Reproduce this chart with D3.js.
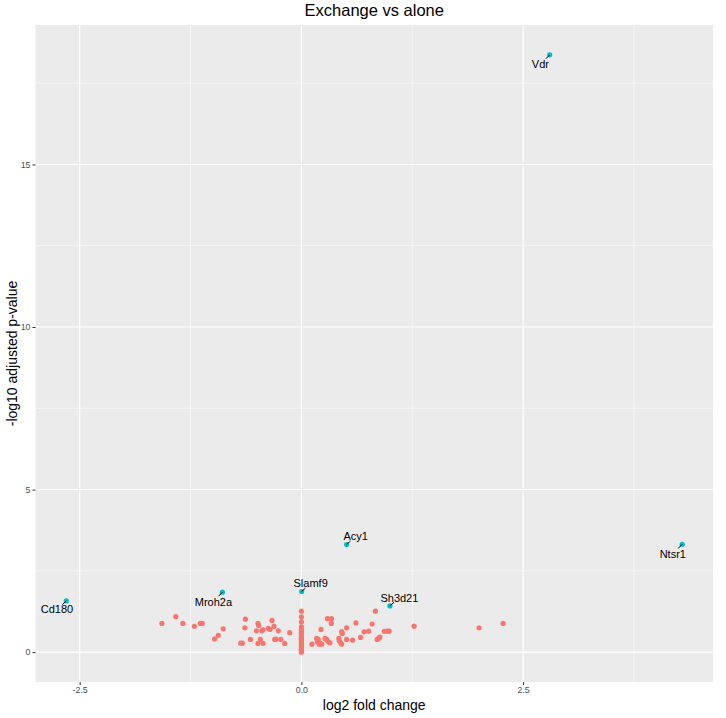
<!DOCTYPE html>
<html>
<head>
<meta charset="utf-8">
<script src="https://cdn.jsdelivr.net/npm/d3@7"></script>
<style>
  html, body { margin: 0; padding: 0; background: #ffffff; }
  svg { display: block; font-family: "Liberation Sans", Arial, sans-serif; }
</style>
</head>
<body>
<svg id="chart" width="726" height="718"></svg>
<script>
// ---------- data ----------
const title = "Exchange vs alone";
const xLabel = "log2 fold change";
const yLabel = "-log10 adjusted p-value";

// labelled (significant) genes
const sigGenes = ["Vdr", "Ntsr1", "Acy1", "Slamf9", "Sh3d21", "Mroh2a", "Cd180"];
const sigLog2FC = [2.80, 4.294, 0.51, 0.003, 0.998, -0.891, -2.651];
const sigNegLogP = [18.37, 3.318, 3.309, 1.865, 1.422, 1.843, 1.576];

// non-significant genes
const nsLog2FC = [
  -1.573, -1.416, -1.337, -1.207, -1.140, -1.118, -0.882, -0.937, -0.979,
  -0.632, -0.637, -0.489, -0.481, -0.508, -0.447, -0.432, -0.331, -0.309, -0.373, -0.354,
  -0.260, -0.132, -0.666, -0.684, -0.575, -0.463, -0.489, -0.432, -0.301, -0.286, -0.233, -0.188,
  0, 0, 0, 0, 0, 0, 0, 0, 0, 0, 0, 0, 0, 0, 0, 0, 0, 0, 0,
  0.119, 0.172, 0.190, 0.179, 0.209, 0.202, 0.229, 0.266, 0.285, 0.303, 0.322, 0.221,
  0.294, 0.339, 0.337, 0.423, 0.427, 0.443, 0.454, 0.454, 0.461, 0.510, 0.510, 0.578,
  0.615, 0.668, 0.707, 0.758, 0.798, 0.834, 0.855, 0.874, 0.885, 0.934, 0.967, 0.990,
  1.271, 2.003, 2.274
];
const nsNegLogP = [
  0.882, 1.090, 0.882, 0.793, 0.882, 0.882, 0.716, 0.519, 0.406,
  1.014, 0.747, 0.882, 0.820, 0.654, 0.654, 0.685, 0.974, 0.790, 0.728, 0.697,
  0.654, 0.599, 0.276, 0.276, 0.390, 0.390, 0.267, 0.267, 0.390, 0.400, 0.390, 0.267,
  1.26, 1.085, 0.93, 0.78, 0.70, 0.63, 0.57, 0.50, 0.45, 0.40, 0.35, 0.30, 0.25, 0.20, 0.15, 0.10, 0.06, 0.03, 0.0,
  0.246, 0.421, 0.390, 0.316, 0.286, 0.246, 0.246, 0.421, 0.390, 0.316, 0.286, 0.697,
  1.030, 1.030, 0.882, 0.421, 0.347, 0.286, 0.246, 0.630, 0.574, 0.747, 0.390, 0.369,
  0.897, 0.452, 0.624, 0.645, 0.866, 1.260, 0.390, 0.430, 0.461, 0.639, 0.645, 0.645,
  0.799, 0.747, 0.882
];

const xTicks = [-2.5, 0, 2.5];
const xTickLabels = ["-2.5", "0.0", "2.5"];
const xMinor = [-1.25, 1.25, 3.75];
const yTicks = [0, 5, 10, 15];
const yTickLabels = ["0", "5", "10", "15"];
const yMinor = [2.5, 7.5, 12.5, 17.5];

// label placement (pixel offsets of label centre from its point, as placed by a repel layout)
const labelDx = [-9.3, -9.4, 9.0, 9.0, 9.5, -9.0, -9.3];
const labelDy = [9.3, 9.7, -8.3, -8.0, -8.4, 9.3, 8.6];

// ---------- layout ----------
const W = 726, H = 718;
const panel = { left: 35.5, right: 713, top: 25, bottom: 682 };

const allX = nsLog2FC.concat(sigLog2FC);
const allY = nsNegLogP.concat(sigNegLogP);
function expand(ext) { const w = ext[1] - ext[0]; return [ext[0] - 0.05 * w, ext[1] + 0.05 * w]; }

const x = d3.scaleLinear().domain(expand(d3.extent(allX))).range([panel.left, panel.right]);
const y = d3.scaleLinear().domain(expand(d3.extent(allY))).range([panel.bottom, panel.top]);

const svg = d3.select("#chart");

// panel background
svg.append("rect")
  .attr("x", panel.left).attr("y", panel.top)
  .attr("width", panel.right - panel.left).attr("height", panel.bottom - panel.top)
  .attr("fill", "#EBEBEB");

const grid = svg.append("g");
// minor grid
grid.selectAll(".xminor").data(xMinor).join("line")
  .attr("x1", d => x(d)).attr("x2", d => x(d))
  .attr("y1", panel.top).attr("y2", panel.bottom)
  .attr("stroke", "#ffffff").attr("stroke-width", 0.55);
grid.selectAll(".yminor").data(yMinor).join("line")
  .attr("y1", d => y(d)).attr("y2", d => y(d))
  .attr("x1", panel.left).attr("x2", panel.right)
  .attr("stroke", "#ffffff").attr("stroke-width", 0.55);
// major grid
grid.selectAll(".xmajor").data(xTicks).join("line")
  .attr("x1", d => x(d)).attr("x2", d => x(d))
  .attr("y1", panel.top).attr("y2", panel.bottom)
  .attr("stroke", "#ffffff").attr("stroke-width", 1.1);
grid.selectAll(".ymajor").data(yTicks).join("line")
  .attr("y1", d => y(d)).attr("y2", d => y(d))
  .attr("x1", panel.left).attr("x2", panel.right)
  .attr("stroke", "#ffffff").attr("stroke-width", 1.1);

// axes
const xAxis = d3.axisBottom(x).tickValues(xTicks)
  .tickFormat((d, i) => xTickLabels[i]).tickSizeOuter(0).tickSizeInner(3).tickPadding(2);
const gx = svg.append("g").attr("transform", `translate(0,${panel.bottom})`).call(xAxis);
gx.select(".domain").remove();
gx.selectAll(".tick line").attr("stroke", "#333333").attr("stroke-width", 1);
gx.selectAll(".tick text").attr("fill", "#4D4D4D").style("font-size", "8.8px")
  .style("font-family", "'Liberation Sans', Arial, sans-serif");

const yAxis = d3.axisLeft(y).tickValues(yTicks)
  .tickFormat((d, i) => yTickLabels[i]).tickSizeOuter(0).tickSizeInner(3).tickPadding(2);
const gy = svg.append("g").attr("transform", `translate(${panel.left},0)`).call(yAxis);
gy.select(".domain").remove();
gy.selectAll(".tick line").attr("stroke", "#333333").attr("stroke-width", 1);
gy.selectAll(".tick text").attr("fill", "#4D4D4D").style("font-size", "8.8px")
  .style("font-family", "'Liberation Sans', Arial, sans-serif");

// points: non-significant
svg.append("g").selectAll("circle").data(nsLog2FC.map((v, i) => [v, nsNegLogP[i]])).join("circle")
  .attr("cx", d => x(d[0])).attr("cy", d => y(d[1])).attr("r", 2.6)
  .attr("fill", "#F8766D");

// points: significant
const sig = sigGenes.map((g, i) => ({ g, fc: sigLog2FC[i], p: sigNegLogP[i], dx: labelDx[i], dy: labelDy[i] }));
svg.append("g").selectAll("circle").data(sig).join("circle")
  .attr("cx", d => x(d.fc)).attr("cy", d => y(d.p)).attr("r", 2.6)
  .attr("fill", "#00BFC4");

// repel segments
svg.append("g").selectAll("line").data(sig).join("line")
  .attr("x1", d => x(d.fc)).attr("y1", d => y(d.p))
  .attr("x2", d => x(d.fc) + d.dx * 0.42).attr("y2", d => y(d.p) + d.dy * 0.42)
  .attr("stroke", "#000000").attr("stroke-width", 1);

// labels
svg.append("g").selectAll("text").data(sig).join("text")
  .attr("x", d => x(d.fc) + d.dx).attr("y", d => y(d.p) + d.dy)
  .attr("text-anchor", "middle").attr("dominant-baseline", "central")
  .style("font-size", "11px").attr("fill", "#000000")
  .text(d => d.g);

// title and axis titles
svg.append("text")
  .attr("x", (panel.left + panel.right) / 2).attr("y", 16)
  .attr("text-anchor", "middle").style("font-size", "16.5px").attr("fill", "#000000")
  .text(title);

svg.append("text")
  .attr("x", (panel.left + panel.right) / 2).attr("y", 710)
  .attr("text-anchor", "middle").style("font-size", "14px").attr("fill", "#000000")
  .text(xLabel);

svg.append("text")
  .attr("transform", `translate(17,${(panel.top + panel.bottom) / 2}) rotate(-90)`)
  .attr("text-anchor", "middle").style("font-size", "14px").attr("fill", "#000000")
  .text(yLabel);
</script>
</body>
</html>
